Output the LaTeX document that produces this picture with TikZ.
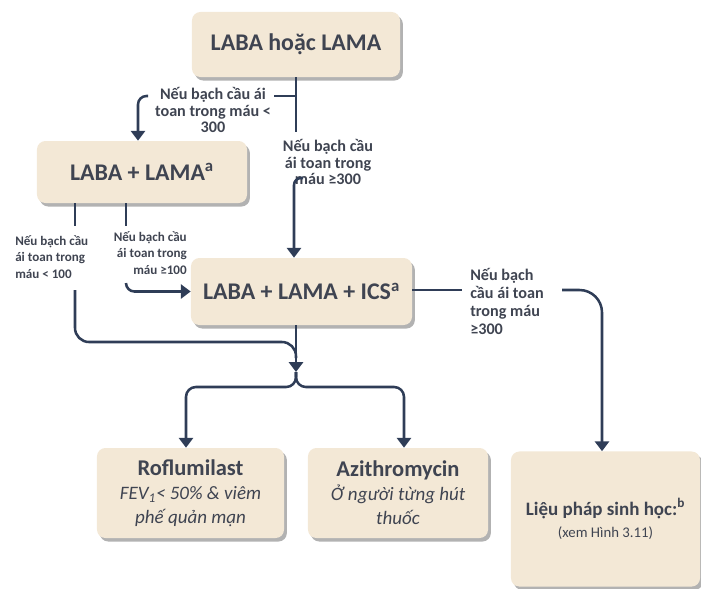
\documentclass[tikz,border=0pt]{standalone}
\usepackage{fontspec}
\setmainfont{Carlito}
\usetikzlibrary{arrows.meta,shadows}
\definecolor{caja}{HTML}{F3E8D6}
\definecolor{texto}{HTML}{3F4451}
\definecolor{flecha}{HTML}{2F3D57}
\newcommand{\titulo}[1]{{\fontsize{16}{19}\selectfont\bfseries #1}}
\newcommand{\detalle}[1]{{\fontsize{13.5}{17}\selectfont\itshape #1}}

\begin{document}
\begin{tikzpicture}[x=0.025cm,y=-0.025cm,
	>={Triangle[width=10pt,length=7pt]},
	caja/.style={fill=caja, rounded corners=6pt, inner sep=0pt, text=texto, align=center,
		drop shadow={shadow xshift=2pt,shadow yshift=-2.5pt,opacity=0.3,fill=black}},
	grande/.style={font=\fontsize{17}{20}\selectfont\bfseries},
	nota/.style={text=texto, font=\fontsize{11.5}{12}\selectfont\bfseries, align=center, inner sep=0pt},
	notita/.style={text=texto, font=\fontsize{9.3}{11.5}\selectfont\bfseries, inner sep=0pt},
	linea/.style={draw=flecha, line width=1.8pt}]
		\useasboundingbox (0,0) rectangle (701,588);
		\node[caja, grande, minimum width=5.2cm, minimum height=1.625cm] (top) at (296,44.5) {LABA hoặc LAMA}; %caja inicial
		\node[caja, grande, minimum width=5.25cm, minimum height=1.55cm] (lama) at (142,172) {LABA + LAMA\textsuperscript{a}};
		\node[caja, grande, minimum width=5.525cm, minimum height=1.675cm] (ics) at (301.5,291.5) {LABA + LAMA + ICS\textsuperscript{a}};
		\node[caja, font=\fontsize{13.5}{17}\selectfont, minimum width=4.675cm, minimum height=2.25cm] (rof) at (190.5,493) {\titulo{Roflumilast}\\\detalle{FEV\textsubscript{1}< 50\% \& viêm}\\\detalle{phế quản mạn}}; %cajas de abajo
		\node[caja, font=\fontsize{13.5}{17}\selectfont, minimum width=4.5cm, minimum height=2.25cm] (azi) at (398,493) {\titulo{Azithromycin}\\\detalle{Ở người từng hút}\\\detalle{thuốc}};
		\node[caja, font=\fontsize{10.5}{16}\selectfont, minimum width=4.725cm, minimum height=3.375cm] (bio) at (605.5,519) {{\fontsize{13.5}{16}\selectfont\bfseries Liệu pháp sinh học:\textsuperscript{b}}\\(xem Hình 3.11)};
		\node[nota] (n1) at (213,110) {Nếu bạch cầu ái\\toan trong máu <\\300}; %etiquetas
		\node[nota] (n2) at (328,162) {Nếu bạch cầu\\ái toan trong\\máu ≥300};
		\node[notita, align=left, anchor=west] (n3) at (15,257) {Nếu bạch cầu\\ái toan trong\\máu < 100};
		\node[notita, align=right, anchor=east] (n4) at (187,253) {Nếu bạch cầu\\ái toan trong\\máu ≥100};
		\node[nota, font=\fontsize{11.5}{12.8}\selectfont\bfseries, align=left, anchor=west] (n5) at (470,301) {Nếu bạch\\cầu ái toan\\trong máu\\≥300};
		\coordinate (a1) at (296,132); %rama de arriba
		\coordinate (a2) at (296,96);
		\coordinate (a3) at (274,96);
		\coordinate (a4) at (148,96);
		\coordinate (a5) at (138,96);
		\draw[linea] (top.south -| a1) -- (a1);
		\draw[linea] (a3) -- (a2);
		\draw[linea,->,rounded corners=6pt] (a4) -| (a5 |- lama.north);
		\coordinate (b1) at (303,178);
		\coordinate (b2) at (294,178);
		\draw[linea,->,rounded corners=5pt] (b1) -- (b2) -- (b2 |- ics.north);
		\coordinate (c1) at (75,226); %ramas de LABA + LAMA
		\coordinate (c2) at (75,290);
		\coordinate (c3) at (296,342);
		\coordinate (m) at (296,358);
		\draw[linea] (lama.south -| c1) -- (c1);
		\draw[linea,rounded corners=10pt] (c2) |- (c3) -- (m);
		\coordinate (d1) at (126,226);
		\coordinate (d2) at (126,283);
		\draw[linea] (lama.south -| d1) -- (d1);
		\draw[linea,->,rounded corners=6pt] (d2) |- (ics.west);
		\coordinate (e1) at (296,372); %salida hacia abajo
		\coordinate (e2) at (186,387);
		\coordinate (e3) at (404,387);
		\draw[linea,->] (ics.south -| e1) -- (e1);
		\draw[linea,->,rounded corners=7pt] (e1) |- (e2) -- (e2 |- rof.north);
		\draw[linea,->,rounded corners=7pt] (e1) |- (e3) -- (e3 |- azi.north);
		\coordinate (f1) at (462,290); %rama derecha
		\coordinate (f2) at (562,290);
		\coordinate (f3) at (602,290);
		\draw[linea] (ics.east |- f1) -- (f1);
		\draw[linea,->,rounded corners=16pt] (f2) -| (f3 |- bio.north);
\end{tikzpicture}
\end{document}
